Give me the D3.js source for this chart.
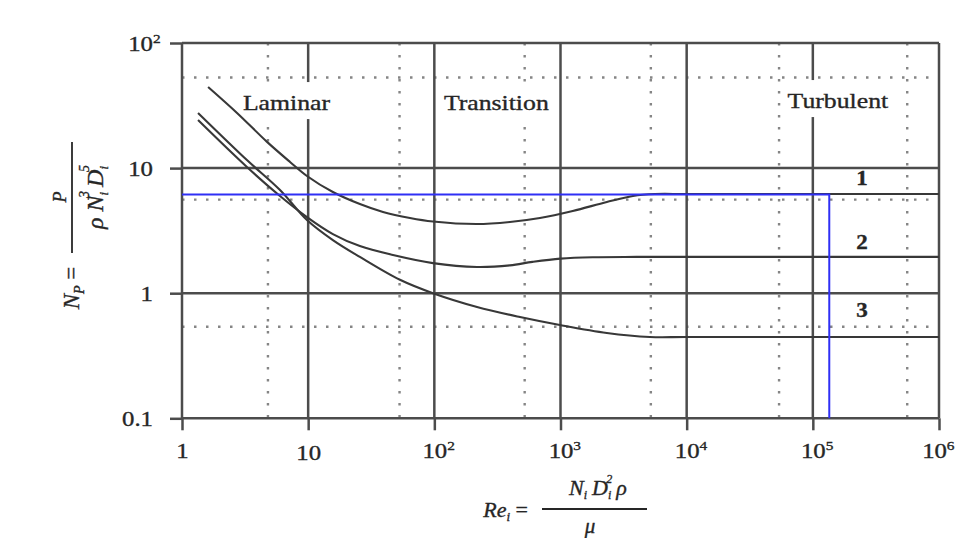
<!DOCTYPE html>
<html><head><meta charset="utf-8">
<script src="https://cdn.jsdelivr.net/npm/d3@7"></script>
<style>
html,body{margin:0;padding:0;background:#fff;}
svg{display:block;}
text{font-family:"Liberation Serif","Times New Roman",serif;fill:#262626;stroke:#262626;stroke-width:0.35px;}
</style></head>
<body>
<script>
// ---- data ----
const xTicks = [1, 10, 100, 1e3, 1e4, 1e5, 1e6];
const xTickBase = ["1", "10", "10", "10", "10", "10", "10"];
const xTickExp = ["", "", "2", "3", "4", "5", "6"];
const yTicks = [0.1, 1, 10, 100];
const yTickBase = ["0.1", "1", "10", "10"];
const yTickExp = ["", "", "", "2"];
const xMinor = [4.8, 53, 520, 5200, 54000, 560000];
const yMinor = [0.54, 5.6, 53];

const curve1Re = [1.61, 2.73, 4.72, 7.18, 9.78, 15.7, 25.7, 39.2, 64.1, 97.5, 218, 397, 687, 1250, 2330, 3750, 5600, 1e4, 1e5, 1e6];
const curve1Np = [44.5, 27.6, 16.2, 11.2, 8.65, 6.44, 5.16, 4.46, 3.99, 3.74, 3.57, 3.71, 3.99, 4.54, 5.36, 5.98, 6.2, 6.2, 6.2, 6.2];
const curve2Re = [1.34, 3.27, 5.98, 9.78, 15.7, 25.7, 47, 97.5, 218, 397, 600, 1000, 1800, 4000, 1e4, 1e5, 1e6];
const curve2Np = [24.2, 10.2, 5.98, 4.06, 2.97, 2.38, 2.02, 1.74, 1.62, 1.67, 1.78, 1.89, 1.94, 1.95, 1.95, 1.95, 1.95];
const curve3Re = [1.34, 3.27, 5.98, 9.78, 15.7, 25.7, 53.4, 97.5, 218, 477, 989, 2330, 5110, 1e4, 1e5, 1e6];
const curve3Np = [27.6, 11.6, 6.68, 3.85, 2.66, 1.95, 1.28, 1.0, 0.776, 0.645, 0.557, 0.481, 0.447, 0.447, 0.447, 0.447];
const curveNames = ["1", "2", "3"];
const curveLabelRe = [2.45e5, 2.45e5, 2.45e5];
const curveLabelNp = [7.33, 2.25, 0.646];

const regionNames = ["Laminar", "Transition", "Turbulent"];
const regionRe = [6.73, 310, 1.58e5];
const regionNp = [29.1, 29.1, 30.2];

const markerRe = 1.35e5;
const markerNp = 6.15;

// ---- drawing ----
const W = 957, H = 538;
const svg = d3.select("body").append("svg").attr("width", W).attr("height", H);
svg.append("rect").attr("width", W).attr("height", H).attr("fill", "#fff");

const x = d3.scaleLog().domain([1, 1e6]).range([182, 939]);
const y = d3.scaleLog().domain([0.1, 100]).range([418.3, 43]);

const gridCol = "#4c4c4c";
const dotCol = "#858585";

// minor dotted grid
svg.append("g").selectAll("line").data(xMinor).join("line")
  .attr("x1", d => x(d)).attr("x2", d => x(d))
  .attr("y1", y(100)).attr("y2", y(0.1))
  .attr("stroke", dotCol).attr("stroke-width", 2.4).attr("stroke-dasharray", "2.5,9.5");
svg.append("g").selectAll("line").data(yMinor).join("line")
  .attr("x1", x(1)).attr("x2", x(1e6))
  .attr("y1", d => y(d)).attr("y2", d => y(d))
  .attr("stroke", dotCol).attr("stroke-width", 2.4).attr("stroke-dasharray", "2.5,9.5");

// major solid grid
svg.append("g").selectAll("line").data(xTicks).join("line")
  .attr("x1", d => x(d)).attr("x2", d => x(d))
  .attr("y1", y(100)).attr("y2", y(0.1))
  .attr("stroke", gridCol).attr("stroke-width", 2.5);
svg.append("g").selectAll("line").data(yTicks).join("line")
  .attr("x1", x(1)).attr("x2", x(1e6))
  .attr("y1", d => y(d)).attr("y2", d => y(d))
  .attr("stroke", gridCol).attr("stroke-width", 2.5);

// axes (outward ticks + labels)
const gx = svg.append("g").attr("transform", `translate(0,${y(0.1)})`)
  .call(d3.axisBottom(x).tickValues(xTicks).tickSize(12).tickFormat(""));
gx.select(".domain").remove();
gx.selectAll(".tick line").attr("stroke", gridCol).attr("stroke-width", 2.5);
gx.selectAll(".tick").each(function(d, i) {
  const g = d3.select(this);
  const last = i === xTicks.length - 1;
  const t = g.append("text").attr("transform", `translate(${last ? -5 : 0},${i === 1 ? 42 : 39.5}) scale(1.18,1)`)
    .attr("text-anchor", xTickExp[i] ? "start" : "middle")
    .attr("x", xTickExp[i] ? -10.5 : 0)
    .style("font-size", "21px");
  t.append("tspan").text(xTickBase[i]);
  if (xTickExp[i]) t.append("tspan").attr("dy", -8).style("font-size", "13px").text(xTickExp[i]);
});

const gy = svg.append("g").attr("transform", `translate(${x(1)},0)`)
  .call(d3.axisLeft(y).tickValues(yTicks).tickSize(12).tickFormat(""));
gy.select(".domain").remove();
gy.selectAll(".tick line").attr("stroke", gridCol).attr("stroke-width", 2.5);
gy.selectAll(".tick").each(function(d, i) {
  const g = d3.select(this);
  g.append("text").attr("transform", `translate(-29,7.5) scale(1.18,1)`)
    .attr("text-anchor", "end").style("font-size", "21px").text(yTickBase[i]);
  if (yTickExp[i]) g.append("text").attr("transform", `translate(-29,-0.5) scale(1.18,1)`)
    .attr("text-anchor", "start").style("font-size", "13px").text(yTickExp[i]);
});

// region labels with white backing
const regW = [100, 113, 109];
regionNames.forEach((name, i) => {
  const cx = x(regionRe[i]), cy = y(regionNp[i]);
  svg.append("rect").attr("x", cx - regW[i] / 2).attr("y", cy - 28).attr("width", regW[i]).attr("height", 37)
    .attr("fill", "#fff");
  svg.append("text").attr("transform", `translate(${cx},${cy}) scale(1.17,1)`)
    .attr("text-anchor", "middle").style("font-size", "22px").text(name);
});

// curves
const line = d3.line().x(d => x(d[0])).y(d => y(d[1])).curve(d3.curveCatmullRom.alpha(0.5));
const curves = [
  d3.zip(curve1Re, curve1Np),
  d3.zip(curve2Re, curve2Np),
  d3.zip(curve3Re, curve3Np)
];
svg.append("g").selectAll("path").data(curves).join("path")
  .attr("d", line).attr("fill", "none").attr("stroke", "#383838").attr("stroke-width", 2.1);

// curve numbers
curveNames.forEach((n, i) => {
  svg.append("text").attr("transform", `translate(${x(curveLabelRe[i])},${y(curveLabelNp[i])}) scale(1.15,1)`)
    .attr("text-anchor", "middle").style("font-size", "20px").style("font-weight", "bold").text(n);
});

// blue marker lines
svg.append("path")
  .attr("d", `M${x(1)},${y(markerNp)}H${x(markerRe)}V${y(0.1)}`)
  .attr("fill", "none").attr("stroke", "#2f2ff5").attr("stroke-width", 2);

// y-axis title (rotated)
const yt = svg.append("g").attr("transform", "translate(72,197) rotate(-90)");
yt.append("line").attr("x1", -56).attr("x2", 55).attr("y1", 0).attr("y2", 0)
  .attr("stroke", "#262626").attr("stroke-width", 1.8);
yt.append("text").attr("x", 0).attr("y", -6).attr("text-anchor", "middle")
  .style("font-size", "18px").style("font-style", "italic").text("P");
const den = yt.append("text").attr("x", 0).attr("y", 31).attr("text-anchor", "middle")
  .style("font-size", "24px").style("font-style", "italic");
den.append("tspan").text("ρ N");
den.append("tspan").attr("dy", 5).style("font-size", "13px").text("i");
den.append("tspan").attr("dx", -6).attr("dy", -19).style("font-size", "14px").text("3");
den.append("tspan").attr("dx", 4).attr("dy", 14).text("D");
den.append("tspan").attr("dy", 5).style("font-size", "13px").text("i");
den.append("tspan").attr("dx", -6).attr("dy", -19).style("font-size", "14px").text("5");
const np = yt.append("text").attr("x", -91).attr("y", 7).attr("text-anchor", "middle")
  .style("font-size", "23px").style("font-style", "italic");
np.append("tspan").text("N");
np.append("tspan").attr("dy", 5).style("font-size", "14px").text("P");
np.append("tspan").attr("dy", -5).style("font-style", "normal").text(" =");

// x-axis title
const xt = svg.append("text").attr("x", 528).attr("y", 517).attr("text-anchor", "end")
  .style("font-size", "22px").style("font-style", "italic");
xt.append("tspan").text("Re");
xt.append("tspan").attr("dy", 4).style("font-size", "13px").text("i");
xt.append("tspan").attr("dy", -4).style("font-style", "normal").text(" =");
svg.append("line").attr("x1", 542).attr("x2", 647).attr("y1", 509).attr("y2", 509)
  .attr("stroke", "#262626").attr("stroke-width", 1.8);
const num = svg.append("text").attr("x", 598).attr("y", 495).attr("text-anchor", "middle")
  .style("font-size", "22px").style("font-style", "italic");
num.append("tspan").text("N");
num.append("tspan").attr("dy", 4).style("font-size", "12px").text("i");
num.append("tspan").attr("dx", 5).attr("dy", -4).text("D");
num.append("tspan").attr("dy", 4).style("font-size", "12px").text("i");
num.append("tspan").attr("dx", -5).attr("dy", -16).style("font-size", "12px").text("2");
num.append("tspan").attr("dx", 4).attr("dy", 12).text("ρ");
svg.append("text").attr("x", 590).attr("y", 533).attr("text-anchor", "middle")
  .style("font-size", "21px").style("font-style", "italic").text("μ");
</script>
</body></html>
